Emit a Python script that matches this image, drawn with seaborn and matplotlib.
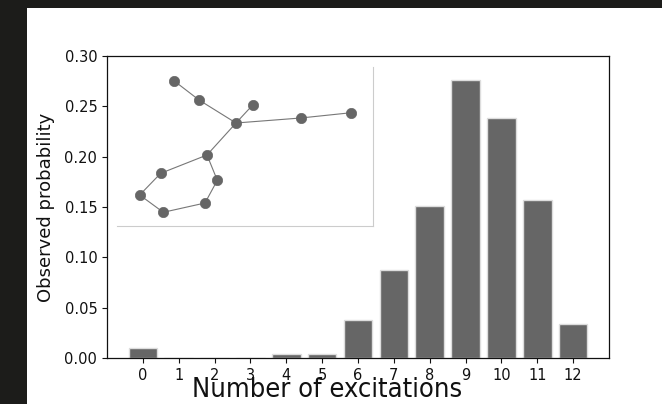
import matplotlib
matplotlib.use("Agg")
import matplotlib.pyplot as plt
from matplotlib.patches import Rectangle
import seaborn as sns
import pandas as pd

# bar data
excitations = list(range(13))
probability = [0.010, 0.0, 0.0, 0.0, 0.004, 0.004, 0.038, 0.087,
               0.151, 0.276, 0.238, 0.157, 0.034]

# inset molecule graph (positions in inset pixel units, y down)
node_x = [57.3, 82.0, 135.7, 119.0, 183.7, 234.3, 90.0, 43.7, 100.3, 22.7, 88.0, 46.3]
node_y = [14.0, 33.0, 38.0, 56.0, 51.0, 45.7, 88.0, 106.3, 113.3, 128.0, 136.0, 145.3]
edges = [(0, 1), (1, 3), (2, 3), (3, 4), (4, 5), (3, 6),
         (6, 7), (6, 8), (7, 9), (9, 11), (11, 10), (10, 8)]

sns.set_style("ticks")
plt.rcParams['font.family'] = ['DejaVu Sans']

fig = plt.figure(figsize=(6.62, 4.04), dpi=100, facecolor='#1c1c1a')
# white page area
fig.patches.append(Rectangle((27 / 662, 0), 1 - 27 / 662, 1 - 8 / 404,
                             transform=fig.transFigure, facecolor='white',
                             edgecolor='none', zorder=-10))

ax = fig.add_axes([107 / 662, 1 - 358 / 404, 502 / 662, 302 / 404])
df = pd.DataFrame({'n': excitations, 'p': probability})
sns.barplot(data=df, x='n', y='p', color='#666666', saturation=1, width=0.8,
            edgecolor='#dddddd', linewidth=1.0, ax=ax)
ax.set_xlim(-1, 13)
ax.set_ylim(0, 0.30)
ax.set_yticks([0, 0.05, 0.10, 0.15, 0.20, 0.25, 0.30])
ax.set_yticklabels([f'{v:.2f}' for v in ax.get_yticks()])
ax.tick_params(labelsize=10.5, colors='#111111')
for s in ax.spines.values():
    s.set_color('#111111')
    s.set_linewidth(0.9)
ax.set_ylabel('Observed probability', fontsize=13, color='#111111', labelpad=7)
ax.set_xlabel('Number of excitations', fontsize=19.5, color='#111111',
              family='DejaVu Sans', fontstretch='condensed')
ax.xaxis.label.set_va('baseline')
ax.xaxis.set_label_coords(0.438, -0.129)

# inset
ins = fig.add_axes([117 / 662, 1 - 226 / 404, 256 / 662, 159 / 404])
ins.set_xlim(0, 256)
ins.set_ylim(159, 0)
for a, b in edges:
    ins.plot([node_x[a], node_x[b]], [node_y[a], node_y[b]],
             color='#777777', lw=0.8, zorder=1)
sns.scatterplot(x=node_x, y=node_y, s=55, color='#666666', edgecolor='#666666',
                linewidth=0.5, ax=ins, zorder=2)
ins.set_xticks([])
ins.set_yticks([])
ins.spines['top'].set_visible(False)
ins.spines['left'].set_visible(False)
ins.spines['right'].set_color('#cccccc')
ins.spines['bottom'].set_color('#cccccc')
ins.spines['right'].set_linewidth(0.8)
ins.spines['bottom'].set_linewidth(0.8)

fig.savefig('out.png', dpi=100, facecolor=fig.get_facecolor())
